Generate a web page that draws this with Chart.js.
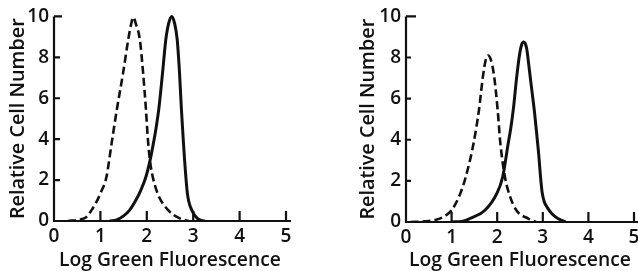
<!DOCTYPE html>
<html>
<head>
<meta charset="utf-8">
<script src="https://cdn.jsdelivr.net/npm/chart.js@4.4.0/dist/chart.umd.min.js"></script>
<style>
  body { margin: 0; background: #fff; overflow: hidden; width: 638px; height: 271px; position: relative; }
  canvas { position: absolute; top: 0; }
  #left { left: 0; }
  #right { left: 318px; }
</style>
</head>
<body>
<canvas id="left" width="318" height="271"></canvas>
<canvas id="right" width="330" height="271"></canvas>
<script>
const xTicks = [0, 1, 2, 3, 4, 5];
const yTicks = [0, 2, 4, 6, 8, 10];
const xTitle = 'Log Green Fluorescence';
const yTitle = 'Relative Cell Number';

// left panel, dashed curve
const leftDashedX = [0.3, 0.55, 0.70, 0.81, 0.93, 1.02, 1.13, 1.24, 1.35, 1.49, 1.60, 1.66, 1.71, 1.77, 1.85, 1.92, 1.98, 2.02, 2.06, 2.11, 2.18, 2.27, 2.46, 2.71, 2.9];
const leftDashedY = [0, 0.07, 0.2, 0.53, 1.0, 1.45, 2.15, 3.77, 5.39, 7.25, 8.87, 9.6, 9.95, 9.6, 8.87, 7.25, 5.5, 4.1, 3.1, 2.35, 1.7, 1.15, 0.53, 0.13, 0];
// left panel, solid curve
const leftSolidX = [1.2, 1.35, 1.5, 1.63, 1.76, 1.87, 1.98, 2.07, 2.14, 2.20, 2.26, 2.34, 2.41, 2.47, 2.54, 2.60, 2.655, 2.705, 2.745, 2.785, 2.815, 2.875, 2.97, 3.1, 3.25];
const leftSolidY = [0, 0.05, 0.25, 0.53, 1.0, 1.5, 2.15, 2.96, 3.77, 4.55, 5.5, 7.25, 8.87, 9.65, 10, 9.65, 8.87, 7.25, 5.5, 4.0, 2.96, 1.34, 0.53, 0.1, 0];

// right panel, dashed curve
const rightDashedX = [0.1, 0.4, 0.64, 0.82, 1.0, 1.19, 1.31, 1.48, 1.60, 1.69, 1.75, 1.80, 1.86, 1.93, 2.01, 2.07, 2.17, 2.26, 2.42, 2.68, 2.85];
const rightDashedY = [0, 0.03, 0.1, 0.25, 0.57, 1.38, 2.19, 3.81, 5.45, 7.13, 7.9, 8.1, 7.9, 7.13, 5.45, 3.81, 2.19, 1.38, 0.57, 0.17, 0];
// right panel, solid curve
const rightSolidX = [1.0, 1.25, 1.40, 1.73, 1.99, 2.12, 2.24, 2.30, 2.36, 2.42, 2.49, 2.535, 2.58, 2.645, 2.70, 2.76, 2.82, 2.87, 2.91, 2.95, 2.985, 3.03, 3.1, 3.2, 3.33, 3.5];
const rightSolidY = [0, 0.04, 0.17, 0.57, 1.38, 2.19, 3.81, 4.6, 5.6, 6.9, 8.15, 8.62, 8.75, 8.45, 7.5, 6.4, 5.3, 4.2, 3.3, 2.2, 1.45, 1.0, 0.7, 0.4, 0.17, 0];

const ink = '#111';
const fontFamily = '"Open Sans", "DejaVu Sans", sans-serif';
const fontWeight = '600';

function points(xs, ys) {
    return xs.map((x, i) => ({ x: x, y: ys[i] }));
}

// axis lines and inward tick marks, as in the printed figure
const handAxes = {
    id: 'handAxes',
    afterDatasetsDraw(chart, args, opts) {
        const ctx = chart.ctx;
        const sx = chart.scales.x, sy = chart.scales.y;
        const x0 = sx.getPixelForValue(0);
        const y0 = sy.getPixelForValue(0);
        const yTop = sy.getPixelForValue(10);
        ctx.save();
        ctx.strokeStyle = ink;
        ctx.lineWidth = 2.2;
        ctx.beginPath();
        ctx.moveTo(x0, yTop);
        ctx.lineTo(x0, y0);
        ctx.lineTo(sx.getPixelForValue(5) + opts.overrun, y0);
        xTicks.forEach(v => {
            if (v === 0) return;
            const px = sx.getPixelForValue(v);
            ctx.moveTo(px, y0);
            ctx.lineTo(px, y0 - 10);
        });
        yTicks.forEach(v => {
            if (v === 0) return;
            const py = sy.getPixelForValue(v);
            ctx.moveTo(x0, py);
            ctx.lineTo(x0 + (v === 10 ? opts.capRight : opts.tick), py);
        });
        ctx.stroke();
        ctx.restore();
    }
};

function makeChart(id, dashed, solid, cfg) {
    return new Chart(document.getElementById(id), {
        type: 'line',
        data: {
            datasets: [{
                data: dashed,
                borderColor: ink,
                borderWidth: 2.6,
                borderDash: [8, 4],
                pointRadius: 0,
                cubicInterpolationMode: 'monotone',
                clip: { left: 6, right: 6, top: 6, bottom: 0 }
            }, {
                data: solid,
                borderColor: ink,
                borderWidth: 3,
                pointRadius: 0,
                cubicInterpolationMode: 'monotone',
                clip: { left: 6, right: 6, top: 6, bottom: 0 }
            }]
        },
        options: {
            responsive: false,
            animation: false,
            events: [],
            layout: { padding: { left: 0, right: cfg.padRight, top: cfg.padTop, bottom: 0 } },
            plugins: {
                legend: { display: false },
                tooltip: { enabled: false },
                handAxes: { overrun: cfg.overrun, capRight: cfg.capRight, tick: cfg.tick }
            },
            scales: {
                x: {
                    type: 'linear',
                    min: 0,
                    max: 5,
                    afterFit: s => { s.height = cfg.xHeight; },
                    afterBuildTicks: s => { s.ticks = xTicks.map(v => ({ value: v })); },
                    grid: { display: false, drawTicks: false },
                    border: { display: false },
                    ticks: { color: ink, padding: 4, font: { family: fontFamily, size: 19, weight: fontWeight }, maxRotation: 0 },
                    title: {
                        display: true, text: xTitle, color: ink,
                        font: { family: fontFamily, size: 19.3, weight: fontWeight, lineHeight: 1 },
                        padding: { top: 0, bottom: 1 }
                    }
                },
                y: {
                    min: 0,
                    max: 10,
                    afterFit: s => { s.width = cfg.yWidth; },
                    afterBuildTicks: s => { s.ticks = yTicks.map(v => ({ value: v })); },
                    grid: { display: false, drawTicks: false },
                    border: { display: false },
                    ticks: { color: ink, padding: 5, font: { family: fontFamily, size: 19, weight: fontWeight } },
                    title: {
                        display: true, text: yTitle, color: ink,
                        font: { family: fontFamily, size: 19.8, weight: fontWeight, lineHeight: 1 },
                        padding: { top: cfg.yTitlePad, bottom: 0 }
                    }
                }
            }
        },
        plugins: [handAxes]
    });
}

makeChart('left', points(leftDashedX, leftDashedY), points(leftSolidX, leftSolidY),
    { yWidth: 54, padRight: 32, padTop: 15, xHeight: 50, yTitlePad: 8, overrun: 5, capRight: 8, tick: 6 });
makeChart('right', points(rightDashedX, rightDashedY), points(rightSolidX, rightSolidY),
    { yWidth: 88, padRight: 14, padTop: 16, xHeight: 49, yTitlePad: 40, overrun: 12, capRight: 10, tick: 5 });
</script>
</body>
</html>
